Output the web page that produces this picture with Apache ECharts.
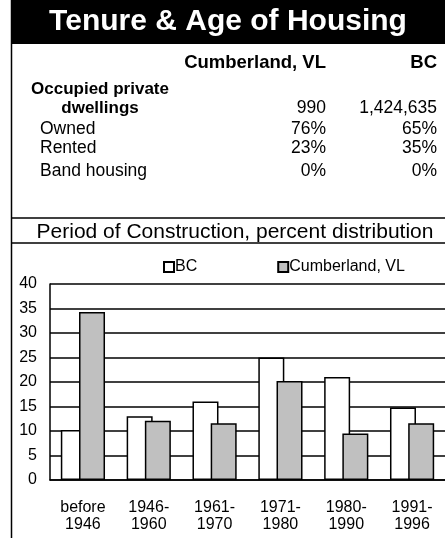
<!DOCTYPE html>
<html>
<head>
<meta charset="utf-8">
<script src="https://cdn.jsdelivr.net/npm/echarts@6/dist/echarts.min.js"></script>
<style>
  html, body { margin: 0; padding: 0; background: #fff; overflow: hidden; }
  #chart { width: 445px; height: 538px; }
</style>
</head>
<body>
<div id="chart"></div>
<script>
const title = 'Tenure & Age of Housing'
const tableColumns = ['Cumberland, VL', 'BC']
const tableRowLabels = ['Owned', 'Rented', 'Band housing']
const dwellings = ['990', '1,424,635']
const cumberlandShares = ['76%', '23%', '0%']
const bcShares = ['65%', '35%', '0%']

const chartTitle = 'Period of Construction, percent distribution'
const categories = ['before\n1946', '1946-\n1960', '1961-\n1970', '1971-\n1980', '1980-\n1990', '1991-\n1996']
const bcValues = [10.2, 13, 16, 25, 21, 14.8]
const cumberlandValues = [34.3, 12.1, 11.6, 20.2, 9.5, 11.6]

const FONT = 'Liberation Sans, Arial, sans-serif'
const colRight = [326, 437]

function text(str, x, y, opts) {
  return {
    type: 'text',
    x: x,
    y: y,
    silent: true,
    style: Object.assign({
      text: str,
      fill: '#000',
      font: '17.5px ' + FONT,
      textAlign: 'left',
      textVerticalAlign: 'middle'
    }, opts || {})
  }
}

function hline(y, x1, x2) {
  return {
    type: 'line',
    silent: true,
    shape: { x1: x1, y1: y, x2: x2, y2: y },
    style: { stroke: '#000', lineWidth: 1.5 }
  }
}

const graphics = [
  { type: 'rect', silent: true, shape: { x: 11, y: 0, width: 434, height: 44 }, style: { fill: '#000' } },
  text(title, 228, 22, { fill: '#fff', font: 'bold 30px ' + FONT, textAlign: 'center' }),
  {
    type: 'line',
    silent: true,
    shape: { x1: 11.5, y1: 0, x2: 11.5, y2: 538 },
    style: { stroke: '#000', lineWidth: 1.5 }
  },
  text(tableColumns[0], colRight[0], 63, { font: 'bold 18.5px ' + FONT, textAlign: 'right' }),
  text(tableColumns[1], colRight[1], 63, { font: 'bold 18.5px ' + FONT, textAlign: 'right' }),
  text('Occupied private', 100, 89, { font: 'bold 17px ' + FONT, textAlign: 'center' }),
  text('dwellings', 100, 108, { font: 'bold 17px ' + FONT, textAlign: 'center' }),
  text(dwellings[0], colRight[0], 108, { textAlign: 'right' }),
  text(dwellings[1], colRight[1], 108, { textAlign: 'right' }),
  hline(218, 11, 445),
  text(chartTitle, 235, 232, { font: '21px ' + FONT, textAlign: 'center' }),
  hline(243, 11, 445)
]

const rowY = [129, 148, 171]
tableRowLabels.forEach((label, i) => {
  graphics.push(text(label, 40, rowY[i]))
  graphics.push(text(cumberlandShares[i], colRight[0], rowY[i], { textAlign: 'right' }))
  graphics.push(text(bcShares[i], colRight[1], rowY[i], { textAlign: 'right' }))
})

const chart = echarts.init(document.getElementById('chart'), null, { renderer: 'canvas' })

chart.setOption({
  animation: false,
  backgroundColor: '#fff',
  textStyle: { fontFamily: FONT },
  graphic: graphics,
  legend: {
    left: 163,
    top: 259,
    padding: 0,
    itemGap: 80,
    itemWidth: 10,
    itemHeight: 10,
    icon: 'rect',
    textStyle: { fontSize: 16, color: '#000', fontFamily: FONT, padding: [0, 0, 0, -4] },
    data: ['BC', 'Cumberland, VL']
  },
  grid: { left: 50, top: 284, width: 400, height: 196 },
  xAxis: {
    type: 'category',
    data: categories,
    axisLine: { lineStyle: { color: '#000', width: 1.5 } },
    axisTick: { show: false },
    axisLabel: {
      color: '#000',
      fontSize: 16,
      lineHeight: 17,
      margin: 19,
      interval: 0,
      fontFamily: FONT
    }
  },
  yAxis: {
    type: 'value',
    min: 0,
    max: 40,
    interval: 5,
    axisLine: { show: true, lineStyle: { color: '#000', width: 1.5 } },
    axisTick: { show: false },
    axisLabel: { color: '#000', fontSize: 16, margin: 13, fontFamily: FONT },
    splitLine: { lineStyle: { color: '#000', width: 1.5 } }
  },
  series: [
    {
      name: 'BC',
      type: 'bar',
      data: bcValues,
      barWidth: 26,
      barGap: '-30%',
      itemStyle: { color: '#fff', borderColor: '#000', borderWidth: 1.5 }
    },
    {
      name: 'Cumberland, VL',
      type: 'bar',
      data: cumberlandValues,
      barWidth: 26,
      barGap: '-30%',
      itemStyle: { color: '#c0c0c0', borderColor: '#000', borderWidth: 1.5 }
    }
  ]
})
</script>
</body>
</html>
